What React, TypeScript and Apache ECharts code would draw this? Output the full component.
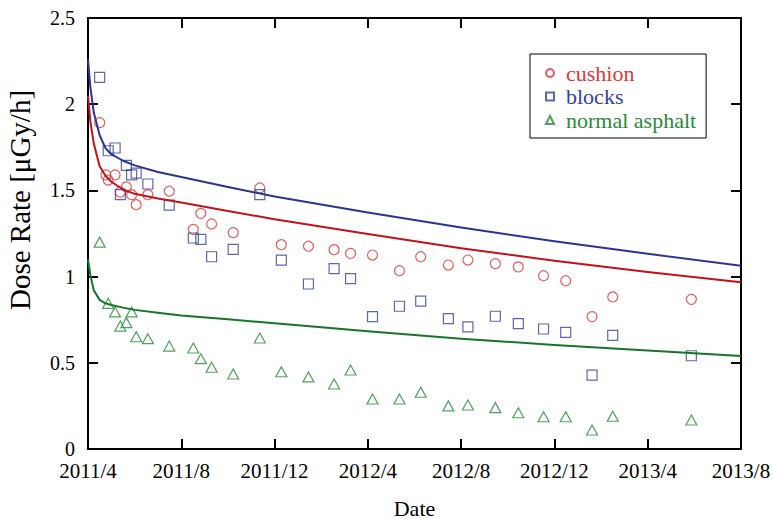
import React, { useEffect, useRef } from "react";
import * as echarts from "echarts";

// Survey dates (shared by blocks and normal asphalt)
const surveyDates = [
  "2011-04-16", "2011-04-27", "2011-05-06", "2011-05-13", "2011-05-21", "2011-05-28",
  "2011-06-03", "2011-06-18", "2011-07-16", "2011-08-17", "2011-08-27", "2011-09-10",
  "2011-10-08", "2011-11-12", "2011-12-10", "2012-01-15", "2012-02-17", "2012-03-09",
  "2012-04-07", "2012-05-12", "2012-06-09", "2012-07-15", "2012-08-10", "2012-09-15",
  "2012-10-15", "2012-11-17", "2012-12-16", "2013-01-20", "2013-02-15", "2013-05-28",
];

const cushionDates = [
  "2011-04-16", "2011-04-24", "2011-04-27", "2011-05-06", "2011-05-13", "2011-05-21",
  "2011-05-28", "2011-06-03", "2011-06-18", "2011-07-16", "2011-08-17", "2011-08-27",
  "2011-09-10", "2011-10-08", "2011-11-12", "2011-12-10", "2012-01-15", "2012-02-17",
  "2012-03-09", "2012-04-07", "2012-05-12", "2012-06-09", "2012-07-15", "2012-08-10",
  "2012-09-15", "2012-10-15", "2012-11-17", "2012-12-16", "2013-01-20", "2013-02-15",
  "2013-05-28",
];
const cushionValues = [
  1.893, 1.59, 1.56, 1.59, 1.49, 1.52, 1.475, 1.417, 1.475, 1.495, 1.274, 1.367,
  1.305, 1.255, 1.514, 1.185, 1.176, 1.156, 1.135, 1.125, 1.034, 1.115, 1.067, 1.096,
  1.075, 1.056, 1.005, 0.976, 0.768, 0.882, 0.868,
];
const blocksValues = [
  2.156, 1.73, 1.746, 1.475, 1.645, 1.59, 1.6, 1.537, 1.415, 1.224, 1.216, 1.115,
  1.158, 1.475, 1.096, 0.957, 1.046, 0.988, 0.768, 0.828, 0.858, 0.756, 0.708, 0.77,
  0.727, 0.696, 0.677, 0.429, 0.659, 0.541,
];
const asphaltValues = [
  1.2, 0.845, 0.795, 0.713, 0.733, 0.795, 0.651, 0.64, 0.597, 0.586, 0.524, 0.474,
  0.435, 0.644, 0.448, 0.418, 0.377, 0.458, 0.29, 0.29, 0.329, 0.25, 0.255, 0.24,
  0.21, 0.187, 0.187, 0.11, 0.19, 0.168,
];

// Fitted curves (months since 2011/4)
const fitMonths = [0, 0.1, 0.25, 0.5, 0.75, 1, 1.5, 2, 3, 4, 6, 8, 12, 16, 20, 24, 28];
const cushionFit = [2.05, 1.9, 1.77, 1.64, 1.585, 1.55, 1.505, 1.48, 1.453, 1.43, 1.381, 1.333, 1.247, 1.165, 1.092, 1.027, 0.967];
const blocksFit = [2.26, 2.1, 1.95, 1.82, 1.745, 1.71, 1.672, 1.645, 1.607, 1.578, 1.52, 1.465, 1.372, 1.285, 1.205, 1.132, 1.063];
const asphaltFit = [1.1, 1.01, 0.92, 0.865, 0.845, 0.835, 0.82, 0.807, 0.79, 0.775, 0.752, 0.73, 0.683, 0.64, 0.603, 0.571, 0.539];

const seriesNames = ["cushion", "blocks", "normal asphalt"];
const yTitle = "Dose Rate [μGy/h]";
const xTitle = "Date";

const FONT = "Liberation Serif";
const RED = "#d93a36";
const RED_LINE = "#c4121c";
const BLUE = "#34419c";
const BLUE_LINE = "#2b3590";
const GREEN = "#288a3a";
const GREEN_LINE = "#17752b";

function monthOffset(s: string): number {
  const [y, m, d] = s.split("-").map(Number);
  const dim = new Date(y, m, 0).getDate();
  return (y - 2011) * 12 + (m - 4) + (d - 1) / dim;
}

function monthLabel(v: number): string {
  const total = 3 + Math.round(v);
  const y = 2011 + Math.floor(total / 12);
  const mo = (total % 12) + 1;
  return `${y}/${mo}`;
}

export default function App() {
  const ref = useRef<HTMLDivElement>(null);

  useEffect(() => {
    if (!ref.current) return;
    const chart = echarts.init(ref.current, null, { renderer: "svg" });

    const axisLine = { show: true, onZero: false, lineStyle: { color: "#000", width: 2 } };
    const axisTick = { show: true, inside: true, length: 10, lineStyle: { color: "#000", width: 2 } };

    const scatter = (name: string, dates: string[], vals: number[], symbol: string, size: any, color: string) => ({
      name,
      type: "scatter",
      symbol,
      symbolSize: size,
      data: dates.map((d, i) => [monthOffset(d), vals[i]]),
      itemStyle: { color: "rgba(255,255,255,0)", borderColor: color, borderWidth: 1.2 },
      z: 2,
    });
    const fit = (name: string, vals: number[], color: string) => ({
      name,
      type: "line",
      showSymbol: false,
      smooth: false,
      data: fitMonths.map((m, i) => [m, vals[i]]),
      lineStyle: { color, width: 2, join: "round" },
      itemStyle: { color },
      z: 3,
    });

    chart.setOption({
      animation: false,
      backgroundColor: "#fff",
      textStyle: { fontFamily: FONT },
      grid: { left: 88, top: 18, right: 32, bottom: 70, containLabel: false, outerBoundsMode: "none" },
      legend: {
        orient: "vertical",
        left: 530,
        top: 54,
        padding: [8, 10, 7, 15],
        itemGap: 1.5,
        itemWidth: 8,
        itemHeight: 8,
        backgroundColor: "#fff",
        borderColor: "#000",
        borderWidth: 1,
        borderRadius: 0,
        textStyle: { fontFamily: FONT, fontSize: 22, lineHeight: 22, padding: [0, 0, 0, 7] },
        data: [
          { name: seriesNames[0], textStyle: { color: RED } },
          { name: seriesNames[1], textStyle: { color: BLUE } },
          { name: seriesNames[2], textStyle: { color: GREEN } },
        ],
      },
      xAxis: [
        {
          type: "value",
          min: 0,
          max: 28,
          interval: 4,
          position: "bottom",
          axisLine,
          axisTick,
          splitLine: { show: false },
          axisLabel: { formatter: monthLabel, color: "#000", fontFamily: FONT, fontSize: 21, margin: 11 },
          name: xTitle,
          nameLocation: "middle",
          nameGap: 48,
          nameTextStyle: { color: "#000", fontFamily: FONT, fontSize: 22, lineHeight: 22 },
        },
        {
          type: "value",
          min: 0,
          max: 28,
          interval: 4,
          position: "top",
          axisLine,
          axisTick,
          splitLine: { show: false },
          axisLabel: { show: false },
        },
      ],
      yAxis: [
        {
          type: "value",
          min: 0,
          max: 2.5,
          interval: 0.5,
          position: "left",
          axisLine,
          axisTick,
          splitLine: { show: false },
          axisLabel: { color: "#000", fontFamily: FONT, fontSize: 20, lineHeight: 16, margin: 13 },
        },
        {
          type: "value",
          min: 0,
          max: 2.5,
          interval: 0.5,
          position: "right",
          axisLine,
          axisTick,
          splitLine: { show: false },
          axisLabel: { show: false },
        },
      ],
      graphic: [
        {
          type: "text",
          x: 20,
          y: 200,
          rotation: Math.PI / 2,
          style: {
            text: yTitle,
            fontFamily: FONT,
            fontSize: 29,
            fill: "#000",
            textAlign: "center",
            textVerticalAlign: "middle",
          },
        },
      ],
      series: [
        scatter(seriesNames[0], cushionDates, cushionValues, "circle", 10, RED),
        scatter(seriesNames[1], surveyDates, blocksValues, "rect", 10, BLUE),
        scatter(seriesNames[2], surveyDates, asphaltValues, "triangle", [11, 10], GREEN),
        fit("cushion fit", cushionFit, RED_LINE),
        fit("blocks fit", blocksFit, BLUE_LINE),
        fit("normal asphalt fit", asphaltFit, GREEN_LINE),
      ],
    });

    return () => chart.dispose();
  }, []);

  return (
    <div
      ref={ref}
      style={{ position: "absolute", left: 0, top: 0, width: 773, height: 519 }}
    />
  );
}
